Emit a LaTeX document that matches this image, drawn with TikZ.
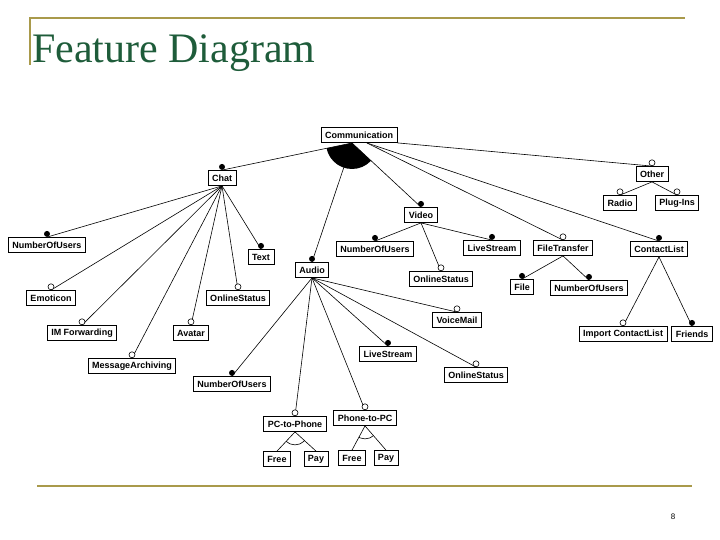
\documentclass[tikz,border=0pt]{standalone}
\usepackage{fontspec}
\setmainfont{Liberation Serif}
\setsansfont{Liberation Sans}
\usepackage{xcolor}
\usetikzlibrary{calc}

\definecolor{titlegreen}{HTML}{1E5C3A}
\definecolor{rulegold}{HTML}{A99A4B}

\begin{document}
\begin{tikzpicture}[
    x=1pt, y=-1pt,
    feat/.style={
        draw,
        line width=0.8pt,
        fill=white,
        font=\sffamily\bfseries\fontsize{9}{10}\selectfont,
        inner xsep=4pt,
        inner ysep=0pt,
        minimum height=15pt
    },
    mand/.style={circle, fill=black, inner sep=0pt, minimum size=6pt, anchor=south},
    opt/.style={circle, draw, fill=white, line width=0.6pt, inner sep=0pt, minimum size=6pt, anchor=south},
    link/.style={line width=0.6pt}
]
\useasboundingbox (0,0) rectangle (720,540);

% slide frame
\draw[rulegold, line width=1.6pt] (30,65) -- (30,18) -- (685,18);
\draw[rulegold, line width=2.6pt] (37,486) -- (692,486);
\node[anchor=base west, inner sep=0pt, text=titlegreen, font=\fontsize{42}{42}\selectfont] (title) at (32,63) {Feature Diagram};
\node[font=\sffamily\fontsize{8}{9}\selectfont, inner sep=0pt] (page) at (673,517) {8};

% features
\node[feat] (comm) at (359,135) {Communication};
\node[feat] (chat) at (222,178) {Chat};
\node[feat] (video) at (421,215) {Video};
\node[feat] (audio) at (312,270) {Audio};
\node[feat] (filetr) at (563,248) {FileTransfer};
\node[feat] (contact) at (659,249) {ContactList};
\node[feat] (other) at (652,174) {Other};
\node[feat] (radio) at (620,203) {Radio};
\node[feat] (plugins) at (677,203) {Plug-Ins};

\node[feat] (cnum) at (47,245) {NumberOfUsers};
\node[feat] (ctext) at (261,257) {Text};
\node[feat] (cemo) at (51,298) {Emoticon};
\node[feat] (conl) at (238,298) {OnlineStatus};
\node[feat] (cimf) at (82,333) {IM Forwarding};
\node[feat] (cava) at (191,333) {Avatar};
\node[feat] (cmsg) at (132,366) {MessageArchiving};

\node[feat] (vnum) at (375,249) {NumberOfUsers};
\node[feat] (vlive) at (492,248) {LiveStream};
\node[feat] (vonl) at (441,279) {OnlineStatus};

\node[feat] (ffile) at (522,287) {File};
\node[feat] (fnum) at (589,288) {NumberOfUsers};

\node[feat] (kimp) at (623,334) {Import ContactList};
\node[feat] (kfri) at (692,334) {Friends};

\node[feat] (avm) at (457,320) {VoiceMail};
\node[feat] (alive) at (388,354) {LiveStream};
\node[feat] (aonl) at (476,375) {OnlineStatus};
\node[feat] (anum) at (232,384) {NumberOfUsers};
\node[feat] (apcp) at (295,424) {PC-to-Phone};
\node[feat] (appc) at (365,418) {Phone-to-PC};

\node[feat] (free1) at (277,459) {Free};
\node[feat] (pay1) at (316,459) {Pay};
\node[feat] (free2) at (352,458) {Free};
\node[feat] (pay2) at (386,458) {Pay};

% connectors
\coordinate (hub) at (352,143);
\coordinate (hubR) at (367,143);

\begin{scope}
    \clip (hub) circle (26);
    \fill (hub) -- (chat.north) -- (video.north) -- cycle;
\end{scope}

\foreach \n in {chat, audio, video}
    \draw[link] (hub) -- (\n.north);
\foreach \n in {filetr, contact}
    \draw[link] (hubR) -- (\n.north);
\draw[link] (comm.south east) -- (other.north);

\foreach \n in {radio, plugins}
    \draw[link] (other.south) -- (\n.north);
\foreach \n in {cnum, ctext, cemo, conl, cimf, cava, cmsg}
    \draw[link] (chat.south) -- (\n.north);
\foreach \n in {vnum, vlive, vonl}
    \draw[link] (video.south) -- (\n.north);
\foreach \n in {ffile, fnum}
    \draw[link] (filetr.south) -- (\n.north);
\foreach \n in {kimp, kfri}
    \draw[link] (contact.south) -- (\n.north);
\foreach \n in {avm, alive, aonl, anum, apcp, appc}
    \draw[link] (audio.south) -- (\n.north);
\foreach \n in {free1, pay1}
    \draw[link] (apcp.south) -- (\n.north);
\foreach \n in {free2, pay2}
    \draw[link] (appc.south) -- (\n.north);

% alternative groups
\begin{scope}
    \clip (apcp.south) -- (free1.north) -- (pay1.north) -- cycle;
    \draw[link] (apcp.south) circle (13);
\end{scope}
\begin{scope}
    \clip (appc.south) -- (free2.north) -- (pay2.north) -- cycle;
    \draw[link] (appc.south) circle (13);
\end{scope}

% mandatory / optional markers
\foreach \n in {chat, video, audio, contact, cnum, ctext, vnum, vlive, ffile, fnum, kfri, alive, anum}
    \node[mand] (m-\n) at (\n.north) {};
\foreach \n in {other, filetr, radio, plugins, cemo, conl, cimf, cava, cmsg, vonl, kimp, avm, aonl, apcp, appc}
    \node[opt] (o-\n) at (\n.north) {};

\end{tikzpicture}
\end{document}
